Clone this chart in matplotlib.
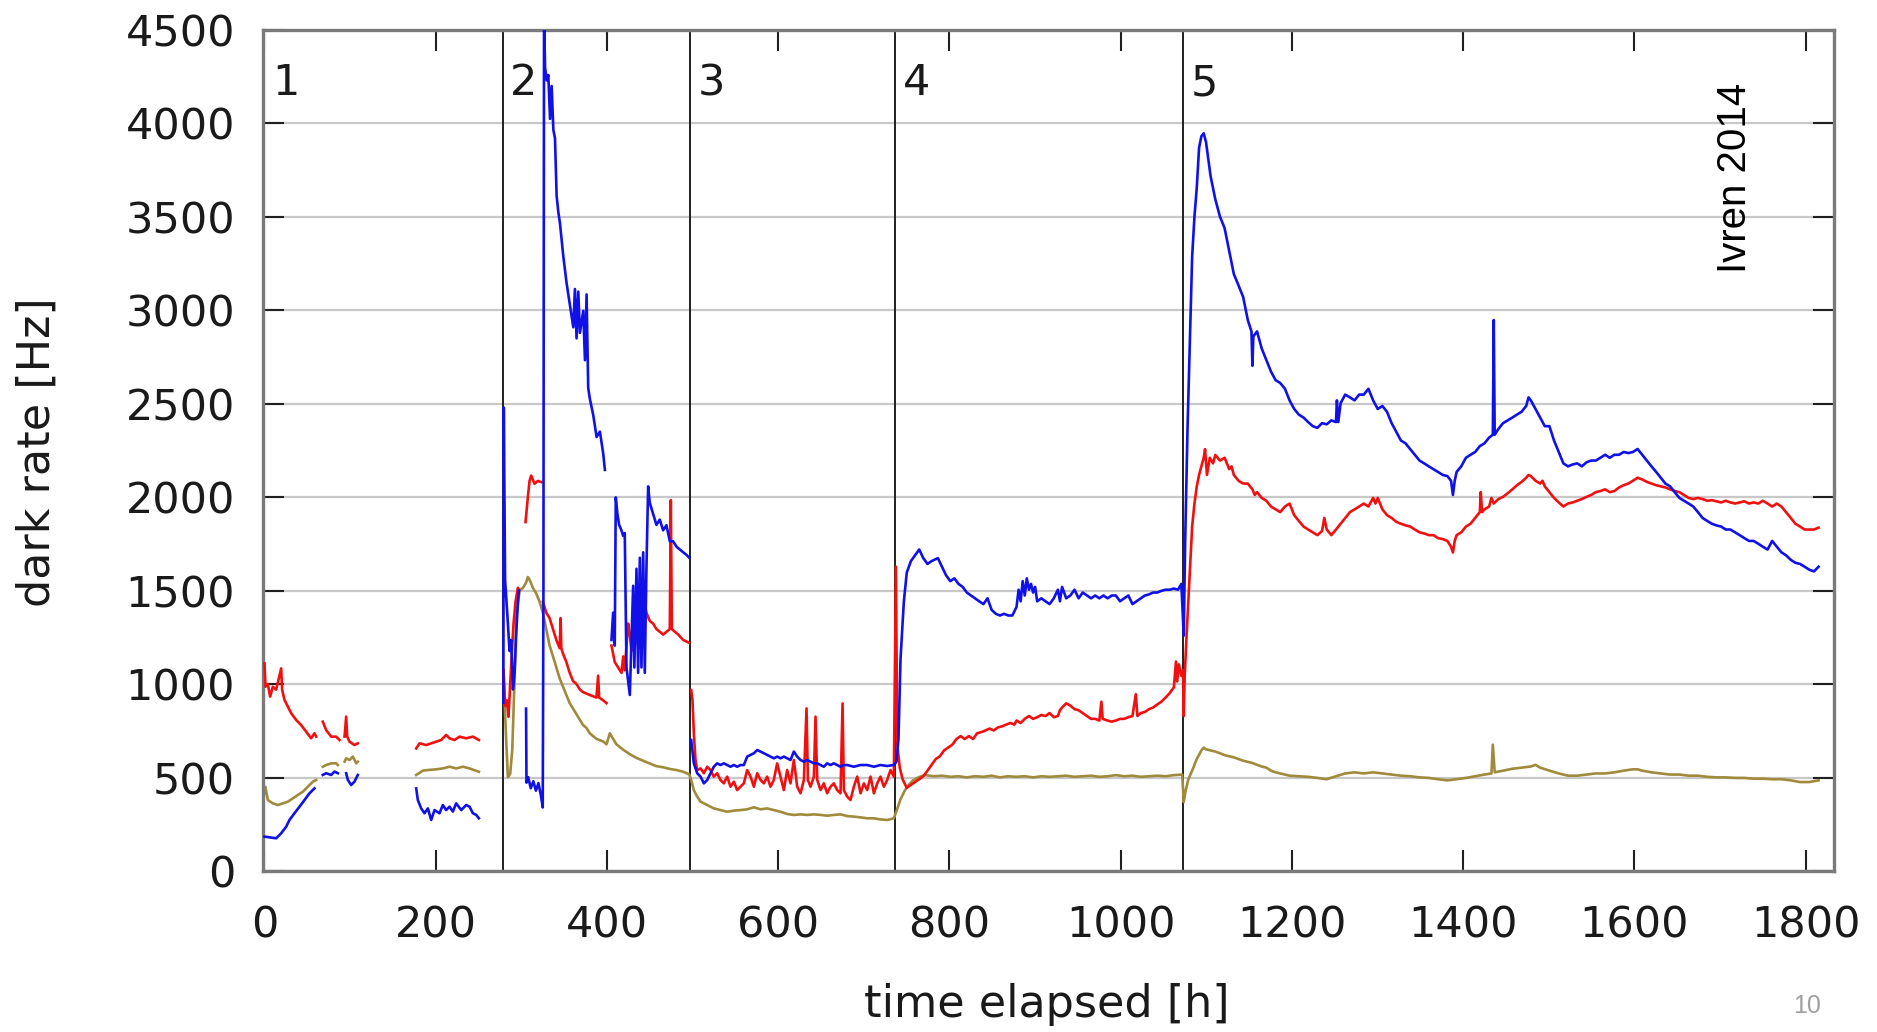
import numpy as np
import matplotlib.pyplot as plt

nan = np.nan

# run boundaries [h] and run numbers
boundaries = [278, 497, 737, 1073]
run_labels = ['1', '2', '3', '4', '5']
run_label_x = [9, 287, 506, 746, 1082]

xticks = list(range(0, 1801, 200))
yticks = list(range(0, 4501, 500))

# (time [h], dark rate [Hz]), nan = gap in data
blue_pts = [
    (0, 184), (6, 180), (13.6, 175), (19.5, 202), (25.3, 237), (29.2, 273), (35, 309), (40.9, 344),
    (46.7, 380), (52.6, 416), (58.4, 442), (nan, nan),
    (68.1, 514), (72, 523), (77.9, 514), (81.8, 532), (85.7, 523), (nan, nan),
    (95.4, 523), (97.4, 487), (101.2, 460), (105.1, 478), (109, 514), (nan, nan),
    (177.2, 442), (179.1, 380), (183, 335), (186.9, 309), (190.8, 335), (194.7, 273), (198.6, 326),
    (204.4, 309), (208.3, 353), (212.2, 326), (216.1, 344), (220, 318), (223.9, 362), (229.8, 326),
    (235.6, 353), (239.5, 344), (243.4, 309), (247.3, 300), (250.4, 282), (nan, nan),
    (279, 900), (279.5, 2480), (281, 1560), (284.3, 1324), (286.2, 1177), (288.2, 1236), (290.2, 971),
    (292.1, 1060), (294, 1265), (296, 1441), (297.2, 1500), (nan, nan),
    (305.5, 869), (306, 473), (308, 502), (311, 443), (314, 480), (317, 430), (320, 470), (323, 400),
    (325, 340), (325.8, 1500), (326.5, 4600), (327.7, 4300), (329.6, 4230), (331.5, 4259), (333.5, 4024),
    (335.4, 4200), (337.4, 3965), (339.3, 3921), (341.2, 3613), (343.2, 3525), (345.1, 3466), (349, 3290),
    (352.9, 3144), (356.8, 3026), (360.7, 2909), (362.6, 3114), (364.5, 2850), (366.5, 3100), (368.4, 2879),
    (372.3, 2997), (374.3, 2733), (376.2, 3085), (378.1, 2586), (380, 2527), (384, 2439), (387.9, 2322),
    (391.8, 2351), (395.6, 2234), (397.6, 2146), (nan, nan),
    (405.3, 1236), (407.2, 1382), (409.1, 1206), (410.3, 1999), (412.2, 1911), (414.2, 1852), (416.9, 1823),
    (418.9, 1793), (420.8, 1808), (422.8, 1089), (426.7, 942), (430.6, 1526), (432, 1089), (434.5, 1617),
    (436.4, 1060), (438.4, 1676), (440.3, 1089), (442.3, 1705), (444.2, 1060), (446.1, 1617),
    (448.1, 2058), (450, 1970), (453.9, 1911), (457.8, 1852), (461.7, 1880), (465.6, 1823), (469.5, 1850),
    (473.4, 1764), (477.3, 1764), (481.3, 1735), (485.2, 1720), (489.1, 1705), (493, 1691), (496.1, 1676),
    (nan, nan),
    (498.4, 701), (501.5, 576), (505.4, 523), (509.3, 505), (513.2, 469), (517.1, 487), (521, 523),
    (524.8, 558), (528.7, 576), (532.6, 567), (536.5, 576), (540.4, 567), (544.3, 558), (548.2, 567),
    (552.1, 558), (556, 567), (559.9, 567), (563.8, 612), (567.7, 621), (571.6, 630), (575.5, 647),
    (579.4, 639), (583.3, 630), (587.1, 621), (591, 612), (594.9, 603), (598.8, 612), (602.7, 603),
    (606.6, 612), (610.5, 603), (614.4, 594), (618.3, 639), (622.2, 612), (626.1, 594), (630, 585),
    (633.9, 594), (637.8, 585), (641.7, 576), (645.6, 576), (649.5, 567), (653.3, 558), (657.2, 576),
    (661.1, 567), (665, 576), (668.9, 567), (672.8, 558), (676.7, 567), (680.6, 567), (688.4, 558),
    (696.2, 567), (704, 567), (711.8, 558), (719.5, 567), (727.3, 562), (735.1, 567),
    (738.1, 584), (740.5, 706), (742.9, 1136), (746.8, 1443), (750.2, 1597), (755, 1658), (759.9, 1689),
    (764.7, 1720), (769.5, 1674), (774.4, 1643), (779.2, 1658), (786.5, 1674), (791.3, 1628), (796.1, 1582),
    (801, 1551), (805.8, 1566), (810.6, 1536), (815.5, 1520), (820.3, 1490), (825.2, 1474), (830, 1459),
    (834.8, 1443), (839.7, 1428), (844.5, 1459), (849.3, 1397), (854.2, 1376), (859, 1367), (863.8, 1376),
    (868.7, 1367), (873.5, 1367), (878.4, 1413), (880.8, 1505), (883.2, 1443), (885.6, 1551), (888, 1474),
    (890.4, 1566), (892.9, 1505), (895.3, 1536), (897.7, 1490), (900.1, 1520), (902.5, 1443), (907.4, 1459),
    (912.2, 1443), (917, 1428), (921.9, 1459), (926.7, 1505), (929.1, 1443), (931.6, 1520), (936.4, 1459),
    (941.2, 1474), (946.1, 1505), (950.9, 1459), (955.7, 1490), (960.6, 1474), (965.4, 1459), (970.3, 1474),
    (975.1, 1459), (979.9, 1474), (984.8, 1459), (989.6, 1474), (994.4, 1474), (999.3, 1443), (1004.1, 1459),
    (1009, 1474), (1013.8, 1428), (1018.6, 1443), (1023.5, 1459), (1028.3, 1474), (1033.1, 1480),
    (1038, 1490), (1042.8, 1490), (1047.6, 1499), (1052.5, 1505), (1057.3, 1505), (1062.2, 1511),
    (1067, 1505), (1070.9, 1536),
    (1073.7, 1259), (1075.3, 1751), (1078.1, 2365), (1080.8, 2826), (1083.5, 3286), (1086.2, 3501),
    (1088.9, 3655), (1091.6, 3870), (1094.3, 3931), (1097, 3947), (1099.7, 3900), (1102.4, 3808),
    (1105.1, 3716), (1110.6, 3593), (1116, 3501), (1121.4, 3440), (1126.8, 3317), (1132.2, 3194),
    (1137.7, 3133), (1143.1, 3071), (1148.5, 2948), (1152.8, 2887), (1153.9, 2703), (1155, 2860),
    (1159.3, 2887), (1164.8, 2795), (1170.2, 2733), (1175.6, 2672), (1181, 2626), (1186.4, 2611),
    (1191.9, 2580), (1197.3, 2518), (1202.7, 2472), (1208.1, 2442), (1213.6, 2426), (1219, 2402),
    (1224.4, 2380), (1229.8, 2371), (1235.2, 2396), (1240.7, 2390), (1246.1, 2411), (1251.5, 2402),
    (1252.6, 2518), (1254.2, 2402), (1256.9, 2503), (1262.3, 2549), (1267.8, 2534), (1273.2, 2518),
    (1278.6, 2549), (1284, 2549), (1289.4, 2580), (1294.9, 2518), (1300.3, 2472), (1305.7, 2488),
    (1311.1, 2457), (1316.5, 2396), (1322, 2349), (1327.4, 2303), (1332.8, 2288), (1338.2, 2257),
    (1343.6, 2227), (1349.1, 2196), (1354.5, 2181), (1359.9, 2165), (1365.3, 2150), (1370.7, 2135),
    (1376.2, 2119), (1381.6, 2113), (1385.9, 2088), (1388.1, 2012), (1390.2, 2088), (1392.4, 2135),
    (1397.8, 2165), (1403.3, 2211), (1408.7, 2227), (1414.1, 2242), (1419.5, 2273), (1424.9, 2288),
    (1430.4, 2319), (1434.7, 2334), (1435.8, 2948), (1436.9, 2334), (1441.2, 2365), (1446.6, 2396),
    (1452, 2411), (1457.5, 2426), (1462.9, 2442), (1468.3, 2457), (1473.7, 2488), (1476.4, 2534),
    (1479.1, 2518), (1484.6, 2472), (1490, 2426), (1495.4, 2380), (1500.8, 2380), (1506.2, 2303),
    (1511.7, 2242), (1517.1, 2181), (1522.5, 2165), (1527.9, 2175), (1533.3, 2181), (1538.7, 2165),
    (1544.2, 2187), (1549.6, 2196), (1555, 2196), (1560.4, 2211), (1565.9, 2227), (1571.3, 2211),
    (1576.7, 2227), (1582.1, 2227), (1587.5, 2242), (1593, 2236), (1598.4, 2242), (1603.8, 2258),
    (1609.2, 2227), (1614.6, 2196), (1620, 2165), (1625.5, 2135), (1630.9, 2104), (1636.3, 2073),
    (1641.7, 2058), (1647.2, 2027), (1652.6, 1996), (1658, 1981), (1663.4, 1966), (1668.8, 1950),
    (1674.3, 1920), (1679.7, 1889), (1685.1, 1873), (1690.5, 1858), (1695.9, 1849), (1701.4, 1843),
    (1706.8, 1827), (1712.2, 1827), (1717.6, 1812), (1723, 1797), (1728.5, 1781), (1733.9, 1766),
    (1739.3, 1766), (1744.7, 1751), (1750.1, 1735), (1755.6, 1720), (1761, 1766), (1766.4, 1735),
    (1771.8, 1705), (1777.2, 1689), (1782.7, 1665), (1788.1, 1649), (1793.5, 1643), (1798.9, 1628),
    (1804.3, 1612), (1809.8, 1603), (1815.2, 1628),
]

red_pts = [
    (0, 1111), (1.2, 986), (3.9, 1000), (6.6, 933), (9.7, 986), (13.6, 970), (19.5, 1084), (20.6, 970),
    (23.4, 915), (27.3, 879), (31.2, 844), (37, 808), (42.8, 781), (48.7, 745), (54.5, 710), (58.4, 737),
    (60.4, 719), (nan, nan),
    (68.1, 799), (72, 754), (77.9, 719), (83.7, 719), (87.6, 701), (nan, nan),
    (93.5, 719), (95.4, 826), (96.6, 719), (99.3, 692), (105.1, 674), (109, 683), (nan, nan),
    (177.2, 656), (181.1, 683), (188.9, 674), (194.7, 683), (200.5, 692), (206.4, 701), (212.2, 728),
    (216.1, 710), (222, 701), (227.8, 719), (235.6, 710), (243.4, 719), (250.4, 701), (nan, nan),
    (279.2, 1074), (281.2, 883), (283.1, 913), (285, 825), (287, 1001), (289, 1177), (290.9, 1324),
    (293.2, 1441), (296, 1515), (297.2, 1500), (nan, nan),
    (304.9, 1867), (307.6, 1999), (309.6, 2087), (311.5, 2116), (315.4, 2072), (319.3, 2087),
    (323.2, 2081), (nan, nan),
    (325.2, 1441), (329.1, 1382), (333, 1353), (337, 1294), (340.9, 1236), (344.8, 1192), (345.9, 1353),
    (346.7, 1192), (348.7, 1162), (352.6, 1118), (356.5, 1060), (360.4, 1016), (364.3, 1001), (368.2, 972),
    (372.1, 957), (379.9, 942), (387.7, 928), (389.7, 1045), (390.9, 928), (395.6, 913), (399.5, 898),
    (nan, nan),
    (405.3, 1206), (409.1, 1118), (413.1, 1089), (417, 1060), (419, 1148), (420.8, 1074), (424.7, 1324),
    (426.7, 1265), (428.6, 1177), (430.6, 1382), (432.5, 1294), (436.4, 1206), (442.3, 1471), (446.1, 1382),
    (450, 1338), (453.9, 1324), (457.8, 1294), (461.7, 1280), (465.6, 1265), (469.5, 1280), (473.4, 1294),
    (474.6, 1984), (475.8, 1294), (479.3, 1280), (483.2, 1265), (489.1, 1236), (496.1, 1221), (nan, nan),
    (498.4, 968), (499.9, 915), (501.5, 737), (503.4, 594), (505.4, 540), (509.3, 549), (513.2, 523),
    (517.1, 558), (521, 540), (524.8, 505), (528.7, 523), (532.6, 487), (536.5, 469), (540.4, 505),
    (544.3, 451), (548.2, 478), (552.1, 433), (556, 451), (559.9, 469), (563.8, 540), (567.7, 505),
    (571.6, 451), (575.5, 523), (579.4, 487), (583.3, 469), (587.1, 505), (591, 451), (594.9, 487),
    (598.8, 576), (602.7, 505), (606.6, 433), (610.5, 540), (614.4, 469), (618.3, 594), (622.2, 451),
    (626.1, 416), (630, 487), (633.1, 870), (634.7, 487), (637.8, 451), (641.7, 505), (643.6, 826),
    (645.6, 487), (649.5, 433), (653.3, 469), (657.2, 416), (661.1, 451), (665, 469), (668.9, 433),
    (672.8, 416), (675.2, 897), (676.7, 433), (680.6, 398), (684.5, 380), (688.4, 451), (692.3, 505),
    (696.2, 416), (700.1, 469), (704, 433), (707.9, 505), (711.8, 416), (715.7, 469), (719.5, 505),
    (723.4, 451), (727.3, 487), (731.2, 540), (735.1, 505), (737.5, 1628),
    (739.1, 676), (742, 553), (745.3, 491), (750.2, 445), (755, 461), (759.9, 476), (764.7, 491),
    (769.5, 507), (774.4, 537), (779.2, 568), (784, 599), (788.9, 614), (793.7, 645), (798.5, 660),
    (803.4, 676), (808.2, 706), (813.1, 722), (817.9, 706), (822.7, 722), (827.6, 706), (832.4, 737),
    (837.2, 743), (842.1, 752), (846.9, 762), (851.8, 752), (856.6, 768), (861.4, 774), (866.3, 783),
    (871.1, 792), (875.9, 783), (878.4, 805), (883.2, 792), (888, 814), (892.9, 829), (897.7, 814),
    (902.5, 823), (907.4, 835), (912.2, 829), (917, 845), (921.9, 823), (926.7, 829), (929.1, 860),
    (931.6, 875), (936.4, 897), (941.2, 885), (946.1, 866), (950.9, 860), (955.7, 845), (960.6, 829),
    (965.4, 814), (970.3, 814), (975.1, 805), (977.5, 906), (979, 814), (984.8, 805), (989.6, 799),
    (994.4, 805), (999.3, 814), (1004.1, 814), (1009, 823), (1013.8, 829), (1017.7, 946), (1019.6, 829),
    (1023.5, 845), (1028.3, 851), (1033.1, 866), (1038, 875), (1042.8, 891), (1047.6, 906), (1052.5, 928),
    (1057.3, 952), (1062.2, 983), (1064.6, 1121), (1066, 1014), (1068, 1106), (1070.9, 1044),
    (1072.8, 1075),
    (1073.7, 829), (1074.8, 1044), (1077, 1259), (1080.8, 1597), (1083.5, 1843), (1086.2, 1966),
    (1088.9, 2058), (1091.6, 2119), (1094.3, 2165), (1097, 2211), (1098.6, 2257), (1100.8, 2119),
    (1104.1, 2211), (1107.9, 2181), (1110.6, 2226), (1116, 2196), (1121.4, 2211), (1124.1, 2181),
    (1126.8, 2150), (1129.5, 2165), (1132.2, 2119), (1137.7, 2088), (1143.1, 2073), (1148.5, 2073),
    (1153.9, 2042), (1156.6, 2012), (1159.3, 2027), (1164.8, 1996), (1170.2, 1981), (1175.6, 1950),
    (1181, 1935), (1186.4, 1920), (1191.9, 1950), (1197.3, 1966), (1200, 1935), (1202.7, 1904),
    (1208.1, 1873), (1213.6, 1843), (1219, 1827), (1224.4, 1812), (1229.8, 1797), (1235.2, 1819),
    (1237.9, 1889), (1240.7, 1827), (1246.1, 1797), (1251.5, 1827), (1256.9, 1858), (1262.3, 1889),
    (1267.8, 1920), (1273.2, 1935), (1278.6, 1950), (1284, 1966), (1289.4, 1950), (1294.9, 1996),
    (1297.6, 1966), (1300.3, 1996), (1303, 1966), (1305.7, 1935), (1311.1, 1904), (1316.5, 1889),
    (1322, 1868), (1327.4, 1858), (1332.8, 1849), (1338.2, 1843), (1343.6, 1827), (1349.1, 1812),
    (1354.5, 1806), (1359.9, 1797), (1365.3, 1797), (1370.7, 1781), (1376.2, 1776), (1381.6, 1766),
    (1385.9, 1735), (1388.1, 1704), (1390.2, 1766), (1392.4, 1797), (1397.8, 1812), (1403.3, 1843),
    (1408.7, 1858), (1414.1, 1889), (1419.5, 1920), (1420.6, 2027), (1422.2, 1920), (1424.9, 1935),
    (1430.4, 1950), (1433.1, 1996), (1435.8, 1966), (1441.2, 1990), (1446.6, 2002), (1452, 2021),
    (1457.5, 2042), (1462.9, 2064), (1468.3, 2082), (1473.7, 2104), (1476.4, 2119), (1479.1, 2113),
    (1484.6, 2088), (1490, 2073), (1492.7, 2088), (1495.4, 2058), (1500.8, 2027), (1506.2, 1996),
    (1511.7, 1972), (1517.1, 1950), (1522.5, 1966), (1527.9, 1972), (1533.3, 1981), (1538.7, 1990),
    (1544.2, 2002), (1549.6, 2012), (1555, 2027), (1560.4, 2033), (1565.9, 2042), (1571.3, 2027),
    (1576.7, 2033), (1582.1, 2052), (1587.5, 2064), (1593, 2073), (1598.4, 2088), (1603.8, 2104),
    (1609.2, 2095), (1614.6, 2082), (1620, 2073), (1625.5, 2064), (1630.9, 2058), (1636.3, 2052),
    (1641.7, 2042), (1647.2, 2033), (1652.6, 2027), (1658, 2012), (1663.4, 1996), (1668.8, 1990),
    (1674.3, 1996), (1679.7, 1990), (1685.1, 1981), (1690.5, 1984), (1695.9, 1978), (1701.4, 1972),
    (1706.8, 1981), (1712.2, 1972), (1717.6, 1966), (1723, 1972), (1728.5, 1978), (1733.9, 1966),
    (1739.3, 1972), (1744.7, 1966), (1750.1, 1981), (1755.6, 1966), (1761, 1950), (1766.4, 1966),
    (1771.8, 1950), (1777.2, 1920), (1782.7, 1889), (1788.1, 1858), (1793.5, 1843), (1798.9, 1827),
    (1804.3, 1827), (1809.8, 1827), (1815.2, 1837),
]

olive_pts = [
    (0, 416), (1, 450), (3.9, 380), (9.7, 362), (15.6, 353), (21.4, 362), (27.3, 371), (33.1, 389),
    (39, 407), (44.8, 424), (50.6, 451), (56.5, 478), (60.4, 487), (nan, nan),
    (68.1, 558), (72, 567), (77.9, 576), (83.7, 576), (85.7, 567), (nan, nan),
    (93.5, 585), (95.4, 603), (99.3, 594), (103.2, 612), (107.1, 576), (109, 585), (nan, nan),
    (177.2, 514), (185, 537), (192.8, 541), (200.5, 544), (208.3, 549), (216.1, 558), (223.9, 549),
    (231.7, 558), (239.5, 549), (250.4, 531), (nan, nan),
    (279.2, 1060), (280.7, 883), (282.3, 700), (284.3, 502), (287, 520), (289.4, 649), (292.1, 1030),
    (294, 1353), (298, 1500), (301.9, 1515), (305.7, 1544), (307.6, 1573), (309.6, 1559), (313.5, 1515),
    (317.4, 1485), (321.3, 1441), (325.2, 1382), (329.1, 1294), (333, 1206), (337, 1148), (340.9, 1089),
    (344.8, 1030), (348.7, 986), (352.6, 942), (356.5, 898), (360.4, 869), (364.3, 839), (368.2, 810),
    (372.1, 781), (376, 766), (379.9, 737), (387.7, 707), (395.6, 693), (399.5, 678), (403.4, 737),
    (407.2, 707), (411.1, 678), (418.9, 649), (426.7, 625), (434.5, 605), (442.3, 590), (450, 575),
    (457.8, 561), (465.6, 555), (473.4, 546), (481.3, 540), (489.1, 531), (496.1, 517),
    (498.4, 487), (501.5, 433), (505.4, 398), (509.3, 371), (517.1, 353), (524.8, 335), (532.6, 326),
    (540.4, 317), (548.2, 323), (556, 326), (563.8, 330), (571.6, 341), (579.4, 330), (587.1, 335),
    (594.9, 326), (602.7, 317), (610.5, 305), (618.3, 300), (626.1, 303), (633.9, 300), (641.7, 303),
    (649.5, 300), (657.2, 296), (665, 300), (672.8, 303), (680.6, 294), (688.4, 291), (696.2, 287),
    (704, 282), (711.8, 282), (719.5, 276), (727.3, 273), (735.1, 282),
    (738.1, 320), (742.9, 384), (747.8, 430), (752.6, 461), (757.4, 485), (762.3, 498), (767.1, 507),
    (771.9, 513), (781.6, 507), (791.3, 510), (801, 504), (810.6, 507), (820.3, 501), (830, 507),
    (839.7, 504), (849.3, 510), (859, 501), (868.7, 507), (878.4, 504), (888, 507), (897.7, 501),
    (907.4, 507), (917, 504), (926.7, 507), (936.4, 510), (946.1, 504), (955.7, 507), (965.4, 510),
    (975.1, 504), (984.8, 507), (994.4, 513), (1004.1, 507), (1013.8, 510), (1023.5, 504), (1033.1, 507),
    (1042.8, 510), (1052.5, 507), (1062.2, 513), (1071.9, 516),
    (1073.7, 369), (1075.9, 430), (1079.1, 491), (1083.5, 537), (1088.9, 599), (1094.3, 645), (1097, 660),
    (1099.7, 651), (1105.1, 645), (1110.6, 639), (1116, 630), (1121.4, 620), (1126.8, 614), (1132.2, 608),
    (1137.7, 599), (1143.1, 590), (1148.5, 584), (1153.9, 578), (1159.3, 568), (1164.8, 559),
    (1170.2, 553), (1175.6, 537), (1181, 528), (1186.4, 522), (1191.9, 516), (1197.3, 510), (1208.1, 507),
    (1219, 504), (1229.8, 498), (1240.7, 491), (1251.5, 507), (1262.3, 522), (1273.2, 528), (1284, 522),
    (1294.9, 528), (1305.7, 522), (1316.5, 516), (1327.4, 510), (1338.2, 507), (1349.1, 501),
    (1359.9, 498), (1370.7, 491), (1381.6, 485), (1392.4, 491), (1403.3, 498), (1414.1, 507),
    (1424.9, 516), (1433.1, 522), (1434.7, 676), (1436.9, 528), (1446.6, 537), (1457.5, 547),
    (1468.3, 553), (1479.1, 559), (1484.6, 568), (1490, 553), (1500.8, 537), (1511.7, 522), (1522.5, 510),
    (1533.3, 510), (1544.2, 516), (1555, 522), (1565.9, 522), (1576.7, 528), (1587.5, 537), (1598.4, 544),
    (1603.8, 544), (1609.2, 537), (1620, 528), (1630.9, 522), (1641.7, 516), (1652.6, 516), (1663.4, 510),
    (1674.3, 510), (1685.1, 504), (1695.9, 501), (1706.8, 501), (1717.6, 498), (1728.5, 498),
    (1739.3, 494), (1750.1, 494), (1761, 491), (1771.8, 491), (1782.7, 485), (1793.5, 476),
    (1804.3, 476), (1815.2, 485),
]

fig = plt.figure(figsize=(18.77, 10.32), dpi=100)
ax = fig.add_axes([0.140, 0.156, 0.837, 0.815])

ax.grid(axis='y', color='#c8c8c8', lw=1.6, zorder=0)
ax.set_axisbelow(True)

for b in boundaries:
    ax.axvline(b, color='#202020', lw=1.4, zorder=1)

# olive first, blue on top (gnuplot order)
ax.plot(*np.array(olive_pts).T, color='#a08a3c', lw=1.9, zorder=2)
ax.plot(*np.array(red_pts).T, color='#f01010', lw=1.9, zorder=3)
ax.plot(*np.array(blue_pts).T, color='#1010e8', lw=1.9, zorder=4)

for lab, x in zip(run_labels, run_label_x):
    ax.text(x, 4150, lab, fontsize=31, color='#1a1a1a', ha='left', va='baseline')

ax.text(1718, 3708, 'Ivren 2014', rotation=90, fontsize=29, family='Liberation Sans',
        ha='center', va='center')

ax.set_xlim(-2, 1833)
ax.set_ylim(0, 4500)
ax.set_xticks(xticks)
ax.set_yticks(yticks)
ax.tick_params(direction='in', length=15, width=1.5, color='#202020', labelsize=31,
               labelcolor='#1a1a1a', top=True, right=True)
ax.tick_params(axis='x', pad=24)
ax.tick_params(axis='y', pad=20)
for s in ax.spines.values():
    s.set_color('#7a7a7a')
    s.set_linewidth(2.4)

fig.text(1047 / 1877, 1 - 1005 / 1032, 'time elapsed [h]', fontsize=32, ha='center', va='center',
         color='#1a1a1a')
fig.text(37 / 1877, 1 - 452 / 1032, 'dark rate [Hz]', fontsize=32, rotation=90, ha='center',
         va='center', color='#1a1a1a')
fig.text(1807 / 1877, 1 - 1006 / 1032, '10', fontsize=18, family='Liberation Sans', color='#a0a0a0',
         ha='center', va='center')

fig.savefig('out.png', dpi=100)
